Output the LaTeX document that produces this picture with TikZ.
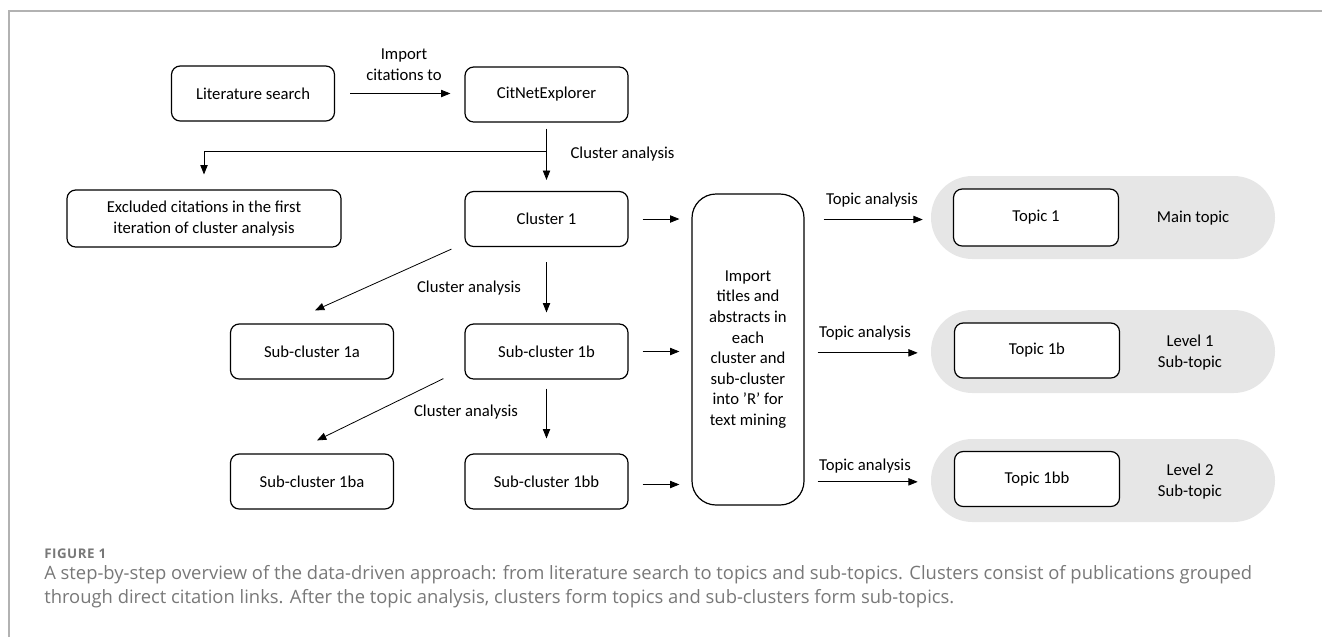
\documentclass[tikz,border=0pt]{standalone}
\usepackage{fontspec}
\setmainfont{Carlito}
\newfontfamily\capfont{Open Sans}
\newfontfamily\figfont[LetterSpace=4]{Open Sans}
\usepackage{tikz}
\usetikzlibrary{positioning, arrows.meta, calc}
\definecolor{pillgray}{RGB}{230,230,230}
\definecolor{capgray}{RGB}{120,120,120}
\definecolor{framegray}{RGB}{178,178,178}

\begin{document}
\begin{tikzpicture}[x=0.75pt, y=-0.75pt,
    box/.style={draw, fill=white, line width=0.9pt, rounded corners=6.5pt, minimum width=122.25pt, minimum height=41.25pt, inner sep=2pt, font=\fontsize{12.5}{15.75}\selectfont, align=center},
    pill/.style={fill=pillgray, rounded corners=31pt, minimum width=258pt, minimum height=62.25pt},
    lbl/.style={inner sep=1pt, font=\fontsize{12.5}{15.75}\selectfont, align=center},
    arr/.style={->, line width=0.6pt, shorten <=10.5pt, shorten >=9pt},
    >={Triangle[length=7pt, width=5.5pt]}]

\useasboundingbox (0,0) rectangle (1322,637);
\draw[framegray, line width=1.5pt] (9,637) -- (9,11) -- (1322,11);

% Suche
\node[box] (lit) at (253,93.5) {Literature search};
\node[box] (cit) at (546.5,94.5) {CitNetExplorer};
\node[lbl] (impcit) at (404,64.5) {Import\\citations to};
\draw[arr, shorten <=11.25pt, shorten >=10.5pt] (lit.east) -- (lit.east -| cit.west);

% Erste Clusteranalyse
\node[box, minimum width=205.5pt, minimum height=42.75pt] (excl) at (204,218.5) {Excluded citations in the first\\iteration of cluster analysis};
\node[box] (clu1) at (546.5,219) {Cluster 1};
\coordinate (split) at ($(cit.south)+(0,29)$);
\draw[arr, shorten <=4.5pt, shorten >=8.25pt] (cit) -- (clu1);
\draw[arr, shorten <=0pt, shorten >=11.25pt] (split) -| (excl.north);
\node[lbl, anchor=west] (ca1) at ($(split)+(22.5,2)$) {Cluster analysis};

% Unter-Cluster
\node[box] (sub1a) at (312,351.5) {Sub-cluster 1a};
\node[box] (sub1b) at (546.5,351.5) {Sub-cluster 1b};
\node[box] (sub1ba) at (312,481.5) {Sub-cluster 1ba};
\node[box] (sub1bb) at (546.5,481.5) {Sub-cluster 1bb};

\draw[arr, shorten <=11.25pt, shorten >=8.25pt] (clu1) -- (sub1b);
\draw[arr, shorten <=0pt, shorten >=0pt] ($(clu1.south west)+(-13,2)$) -- ($(sub1a.north)+(3,-13)$);
\node[lbl] (ca2) at (469,288) {Cluster analysis};

\draw[arr, shorten <=6.75pt, shorten >=11.25pt] (sub1b) -- (sub1bb);
\draw[arr, shorten <=0pt, shorten >=0pt] ($(sub1b.south west)+(-21,-1)$) -- ($(sub1ba.north)+(5,-13)$);
\node[lbl] (ca3) at (466,412) {Cluster analysis};

% Text Mining
\node[box, minimum width=84pt, minimum height=233.25pt, rounded corners=18pt, font=\fontsize{12.5}{15.45}\selectfont] (imp) at (748,349.5) {Import\\titles and\\abstracts in\\each\\cluster and\\sub-cluster\\into 'R' for\\text mining};
\draw[arr] (clu1.east) -- (clu1.east -| imp.west);
\draw[arr] (sub1b.east) -- (sub1b.east -| imp.west);
\draw[arr] ([yshift=-2.25pt]sub1bb.east) -- ([yshift=-2.25pt]sub1bb.east -| imp.west);

% Themen
\node[pill] (pill1) at (1103,217.5) {};
\node[pill] (pill2) at (1103,351.5) {};
\node[pill] (pill3) at (1103,480.5) {};
\node[box, minimum width=123.75pt, minimum height=42.75pt] (top1) at (1036,217.5) {Topic 1};
\node[box, minimum width=123.75pt] (top1b) at (1037,350.5) {Topic 1b};
\node[box, minimum width=123.75pt] (top1bb) at (1037,479) {Topic 1bb};
\node[lbl] (lev1) at (1193,218) {Main topic};
\node[lbl] (lev2) at (1190,352.5) {Level 1\\Sub-topic};
\node[lbl] (lev3) at (1190,481.5) {Level 2\\Sub-topic};

\draw[arr, shorten <=14.25pt, shorten >=6pt] ([yshift=-1.5pt]pill1.west -| imp.east) -- ([yshift=-1.5pt]pill1.west);
\foreach \p in {pill2, pill3}
  \draw[arr, shorten <=9.75pt, shorten >=9.75pt] ([yshift=-1pt]\p.west -| imp.east) -- ([yshift=-1pt]\p.west);
\node[lbl] (ta1) at (872,200) {Topic analysis};
\node[lbl] (ta2) at (865,333) {Topic analysis};
\node[lbl] (ta3) at (865,466) {Topic analysis};

% Bildunterschrift
\node[anchor=west, inner sep=0pt, text=capgray, font=\figfont\bfseries\fontsize{10}{12}\selectfont] (fig) at (44,554) {FIGURE 1};
\node[anchor=north west, inner sep=0pt, align=left, text=capgray, font=\capfont\fontsize{13.8}{18}\selectfont] (cap) at (44,565) {A step-by-step overview of the data-driven approach: from literature search to topics and sub-topics. Clusters consist of publications grouped\\through direct citation links. After the topic analysis, clusters form topics and sub-clusters form sub-topics.};

\end{tikzpicture}
\end{document}
